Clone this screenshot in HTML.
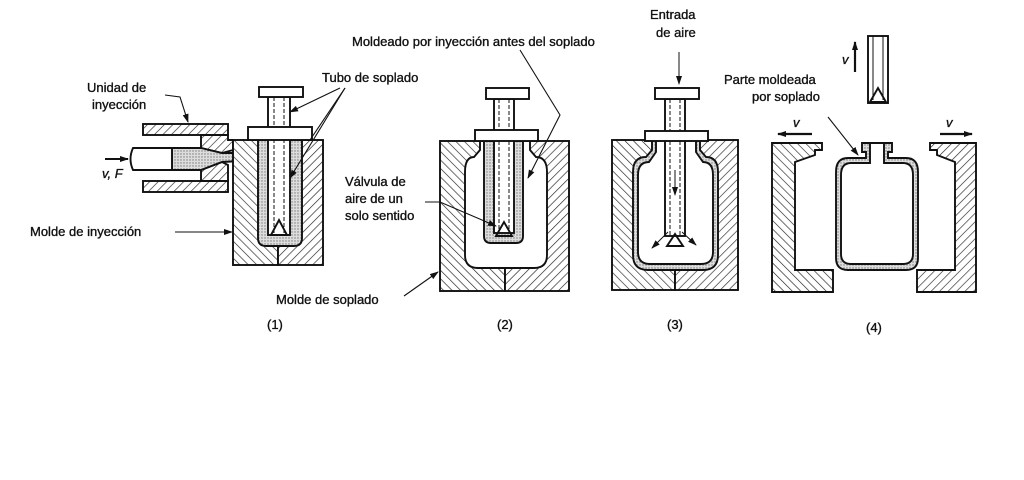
<!DOCTYPE html>
<html><head><meta charset="utf-8"><style>
html,body{margin:0;padding:0;background:#fff;}
svg{display:block;}
text{font-family:"Liberation Sans",sans-serif;font-size:13px;fill:#111;stroke:#111;stroke-width:0.35;}
</style></head><body>
<svg width="1024" height="480" viewBox="0 0 1024 480" xmlns="http://www.w3.org/2000/svg">
<defs>
<pattern id="hL" width="6" height="6" patternUnits="userSpaceOnUse" patternTransform="rotate(45)"><rect width="6" height="6" fill="#fff"/><line x1="0" y1="0" x2="0" y2="6" stroke="#222" stroke-width="1.3"/></pattern>
<pattern id="hR" width="6" height="6" patternUnits="userSpaceOnUse" patternTransform="rotate(-45)"><rect width="6" height="6" fill="#fff"/><line x1="0" y1="0" x2="0" y2="6" stroke="#222" stroke-width="1.3"/></pattern>
<pattern id="dot" width="3" height="3" patternUnits="userSpaceOnUse"><rect width="3" height="3" fill="#ddd"/><circle cx="1" cy="1" r="0.7" fill="#777"/></pattern>
<marker id="ar" markerWidth="9" markerHeight="8" refX="8" refY="4" orient="auto" markerUnits="userSpaceOnUse"><path d="M0,1 L9,4 L0,7Z" fill="#111"/></marker>
</defs>
<g stroke="#111" stroke-width="1.9" fill="none">
<rect x="143" y="124" width="85" height="11" fill="url(#hL)"/>
<rect x="143" y="181" width="85" height="11" fill="url(#hL)"/>
<path d="M201,135 L228,135 L228,140 L233,140 L233,150 L222,153 L201,148Z" fill="url(#hL)"/>
<path d="M201,181 L228,181 L228,165 L222,162 L201,170Z" fill="url(#hL)"/>
<path d="M172,148 L201,148 L222,153 L262,153 L262,160 L222,162 L201,170 L172,170Z" fill="url(#dot)"/>
<path d="M133,148 L172,148 L172,170 L133,170 Q128,159 133,148Z" fill="#fff"/>
<line x1="105" y1="159" x2="128" y2="159" marker-end="url(#ar)"/>
<rect x="233" y="140" width="45" height="125" fill="url(#hR)"/>
<rect x="278" y="140" width="45" height="125" fill="url(#hL)"/>
<path d="M258,140 L258,238 Q258,246 266,246 L294,246 Q302,246 302,238 L302,140Z" fill="url(#dot)"/>
<rect x="268" y="97" width="22" height="138" fill="#fff"/>
<line x1="274" y1="97" x2="274" y2="235" stroke-dasharray="4,2" stroke-width="1"/>
<line x1="284" y1="97" x2="284" y2="235" stroke-dasharray="4,2" stroke-width="1"/>
<path d="M271,235 L279,220 L287,235Z"/>
<rect x="248" y="127" width="64" height="13" fill="#fff"/>
<rect x="259" y="87" width="44" height="10" fill="#fff"/>
<rect x="440" y="141" width="65" height="150" fill="url(#hR)"/>
<rect x="505" y="141" width="64" height="150" fill="url(#hL)"/>
<path d="M480,141 L480,150 L474,157 Q465,157 465,172 L465,255 Q465,268 478,268 L534,268 Q547,268 547,255 L547,172 Q547,157 536,157 L530,150 L530,141Z" fill="#fff"/>
<path d="M484,141 L484,236 Q484,243 491,243 L516,243 Q523,243 523,236 L523,141Z" fill="url(#dot)"/>
<rect x="494" y="99" width="20" height="134" fill="#fff"/>
<line x1="499" y1="99" x2="499" y2="233" stroke-dasharray="4,2" stroke-width="1"/>
<line x1="509" y1="99" x2="509" y2="233" stroke-dasharray="4,2" stroke-width="1"/>
<path d="M496,236 L504,222 L512,236Z"/>
<rect x="475" y="130" width="63" height="11" fill="#fff"/>
<rect x="486" y="88" width="43" height="11" fill="#fff"/>
<rect x="612" y="140" width="63" height="150" fill="url(#hR)"/>
<rect x="675" y="140" width="63" height="150" fill="url(#hL)"/>
<path d="M652,140 L652,150 L646,157 Q633,157 633,172 L633,255 Q633,270 648,270 L703,270 Q718,270 718,255 L718,172 Q718,157 706,157 L700,150 L700,140Z" fill="url(#dot)"/>
<path d="M656,140 L656,152 L649,162 Q638,162 638,175 L638,252 Q638,264 650,264 L701,264 Q713,264 713,252 L713,175 Q713,162 703,162 L696,152 L696,140Z" fill="#fff"/>
<rect x="665" y="99" width="20" height="137" fill="#fff"/>
<line x1="670" y1="99" x2="670" y2="236" stroke-dasharray="4,2" stroke-width="1"/>
<line x1="680" y1="99" x2="680" y2="236" stroke-dasharray="4,2" stroke-width="1"/>
<path d="M667,246 L675,234 L683,246Z"/>
<rect x="645" y="131" width="63" height="10" fill="#fff"/>
<rect x="655" y="88" width="44" height="11" fill="#fff"/>
<line x1="675" y1="170" x2="675" y2="195" stroke-width="1" marker-end="url(#ar)"/>
<path d="M668,232 L652,248" stroke-width="1" marker-end="url(#ar)"/>
<path d="M682,232 L696,245" stroke-width="1" marker-end="url(#ar)"/>
<line x1="679" y1="52" x2="679" y2="84" stroke-width="1" marker-end="url(#ar)"/>
<path d="M772,143 L822,143 L822,150 L815,150 L815,155 L795,162 L795,175 L795,270 L833,270 L833,292 L772,292Z" fill="url(#hR)"/>
<path d="M976,143 L930,143 L930,150 L937,150 L937,155 L955,162 L955,270 L917,270 L917,292 L976,292Z" fill="url(#hL)"/>
<path d="M862,143 L892,143 L892,152 L888,152 L888,158 L906,158 Q918,158 918,172 L918,258 Q918,270 906,270 L848,270 Q836,270 836,258 L836,172 Q836,158 848,158 L866,158 L866,152 L862,152Z" fill="url(#dot)"/>
<path d="M870,143 L884,143 L884,163 L903,163 Q913,163 913,175 L913,254 Q913,264 903,264 L851,264 Q841,264 841,254 L841,175 Q841,163 851,163 L870,163Z" fill="#fff"/>
<rect x="868" y="36" width="20" height="67" fill="#fff"/>
<line x1="873" y1="36" x2="873" y2="100" stroke-width="1"/>
<line x1="883" y1="36" x2="883" y2="100" stroke-width="1"/>
<path d="M870,102 L878,88 L886,102Z"/>
<line x1="855" y1="72" x2="855" y2="42" stroke-width="2.2" marker-end="url(#ar)"/>
<line x1="812" y1="134" x2="778" y2="134" stroke-width="2.2" marker-end="url(#ar)"/>
<line x1="940" y1="134" x2="972" y2="134" stroke-width="2.2" marker-end="url(#ar)"/>
<g stroke-width="1.1">
<path d="M165,95 L180,97 L188,122" marker-end="url(#ar)"/>
<path d="M340,88 L290,112" marker-end="url(#ar)"/>
<path d="M345,88 L310,140"/>
<path d="M345,88 L290,178" marker-end="url(#ar)"/>
<path d="M175,232 L232,232" marker-end="url(#ar)"/>
<path d="M404,296 L438,272" marker-end="url(#ar)"/>
<path d="M520,50 L560,115 L528,178" marker-end="url(#ar)"/>
<path d="M425,202 L440,202 L496,226" marker-end="url(#ar)"/>
<path d="M828,117 L858,155" marker-end="url(#ar)"/>
</g>
</g>
<text x="87" y="92">Unidad de</text>
<text x="92" y="109">inyección</text>
<text x="102" y="178" font-style="italic">v, F</text>
<text x="30" y="236">Molde de inyección</text>
<text x="322" y="82">Tubo de soplado</text>
<text x="352" y="46">Moldeado por inyección antes del soplado</text>
<text x="345" y="186">Válvula de</text>
<text x="345" y="203">aire de un</text>
<text x="345" y="220">solo sentido</text>
<text x="276" y="304">Molde de soplado</text>
<text x="650" y="19">Entrada</text>
<text x="656" y="37">de aire</text>
<text x="724" y="84">Parte moldeada</text>
<text x="752" y="101">por soplado</text>
<text x="842" y="64" font-style="italic">v</text>
<text x="793" y="127" font-style="italic">v</text>
<text x="946" y="127" font-style="italic">v</text>
<text x="267" y="329">(1)</text>
<text x="497" y="329">(2)</text>
<text x="667" y="329">(3)</text>
<text x="866" y="332">(4)</text>
</svg>
</body></html>
